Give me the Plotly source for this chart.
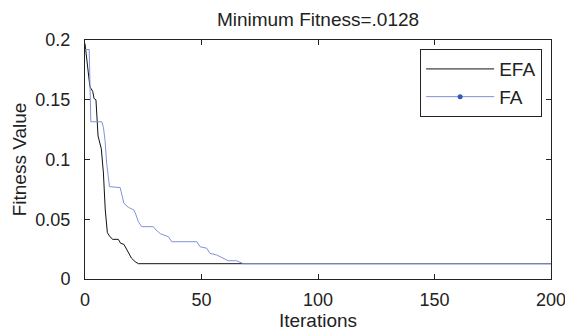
import plotly.graph_objects as go

# EFA breakpoints (iteration, fitness)
efa_x = [0, 2.1, 3.3, 3.9, 4.7, 5.6, 7.0, 7.9, 8.7, 9.6, 10.7, 11.9, 14.3, 15.3, 16.7, 17.9, 19, 20, 21.5, 22.9, 200]
efa_y = [0.197, 0.161, 0.157, 0.151, 0.150, 0.1197, 0.109, 0.0887, 0.0577, 0.0388, 0.0354, 0.0332, 0.0332, 0.0299,
         0.0290, 0.0243, 0.0201, 0.0173, 0.0145, 0.0128, 0.0128]

# FA breakpoints (iteration, fitness)
fa_x = [0, 1.8, 2.5, 7.2, 7.9, 8.6, 9.3, 10.5, 15.1, 15.8, 16.7, 18.6, 21, 21.9, 22.9, 24.3, 29.3, 30.5, 32.5, 35.8,
        37.2, 48, 49.4, 52.3, 53.6, 56.5, 59.4, 61.5, 65, 68, 200]
fa_y = [0.192, 0.192, 0.1316, 0.1316, 0.127, 0.116, 0.097, 0.0773, 0.0765, 0.070, 0.0633, 0.0600, 0.0577, 0.0536,
        0.048, 0.0438, 0.0438, 0.041, 0.0377, 0.0354, 0.0312, 0.0312, 0.027, 0.0257, 0.0215, 0.0201, 0.0173, 0.0153,
        0.0153, 0.0128, 0.0128]

x_ticks = [0, 50, 100, 150, 200]
y_ticks = [0, 0.05, 0.1, 0.15, 0.2]
y_tick_labels = ["0", "0.05", "0.1", "0.15", "0.2"]

FONT = "Liberation Sans, Arial, sans-serif"
TXT = "#222222"

fig = go.Figure()
fig.add_trace(go.Scatter(x=efa_x, y=efa_y, mode="lines", name="EFA",
                         line=dict(color="#111111", width=1)))
fig.add_trace(go.Scatter(x=fa_x, y=fa_y, mode="lines", name="FA", legendgroup="fa", showlegend=False,
                         line=dict(color="#7f93d8", width=1)))
# legend entry for FA (line with dot marker, as in the original)
fig.add_trace(go.Scatter(x=[None], y=[None], mode="lines+markers", name="FA", legendgroup="fa",
                         line=dict(color="#7f93d8", width=1),
                         marker=dict(color="#3a55c0", size=5)))

axis_common = dict(showline=True, linecolor=TXT, linewidth=1, mirror="ticks",
                   ticks="inside", ticklen=5, tickcolor=TXT, showgrid=False, automargin=False,
                   zeroline=False, tickfont=dict(size=18, color=TXT, family=FONT))

# the page body has an 8px margin, so the figure is sized/offset to compensate
fig.update_layout(
    width=565, height=323,
    margin=dict(l=77, r=22, t=32, b=52),
    plot_bgcolor="white", paper_bgcolor="white",
    font=dict(family=FONT, color=TXT),
    title=dict(text="Minimum Fitness=.0128", x=(77 + 543) / 2 / 565, xanchor="center",
               y=1 - 11.5 / 323, yanchor="middle", font=dict(size=19, color=TXT)),
    xaxis=dict(range=[0, 200], tickvals=x_ticks, ticklabelstandoff=4,
               title=dict(text="Iterations", font=dict(size=19), standoff=12), **axis_common),
    yaxis=dict(range=[0, 0.2], tickvals=y_ticks, ticktext=y_tick_labels, ticklabelstandoff=10,
               title=dict(text="Fitness Value", font=dict(size=19), standoff=3), **axis_common),
    legend=dict(x=0.981, y=0.962, xanchor="right", yanchor="top",
                bordercolor=TXT, borderwidth=1, bgcolor="white", itemwidth=68,
                font=dict(size=19, color=TXT), tracegroupgap=0),
    showlegend=True,
)

fig.write_html("out.html")
